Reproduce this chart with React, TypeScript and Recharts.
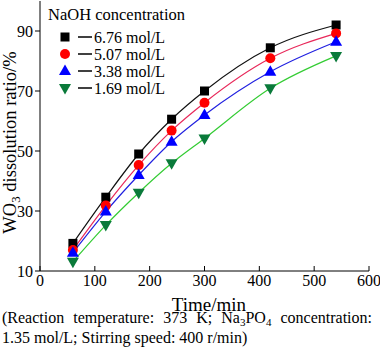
import React from 'react';
import { LineChart, Line, XAxis, YAxis, Customized } from 'recharts';

const times = [60, 120, 180, 240, 300, 420, 540];
const conc676 = [19.2, 34.6, 49.0, 60.6, 70.0, 84.4, 92.0];
const conc507 = [17.0, 31.8, 45.3, 56.8, 66.1, 80.9, 89.2];
const conc338 = [16.1, 29.8, 42.0, 53.1, 62.0, 76.4, 86.4];
const conc169 = [13.1, 25.3, 36.1, 45.9, 54.2, 70.9, 81.7];
const xTicks = [0, 100, 200, 300, 400, 500, 600];
const yTicks = [10, 30, 50, 70, 90];
const legendTitle = 'NaOH concentration';
const seriesNames = ['6.76 mol/L', '5.07 mol/L', '3.38 mol/L', '1.69 mol/L'];

const data = times.map((t, i) => ({
  t,
  a: conc676[i],
  b: conc507[i],
  c: conc338[i],
  d: conc169[i],
}));

const FONT = 'Liberation Serif';

type Kind = 'square' | 'circle' | 'up' | 'down';

function Marker({ kind, cx, cy, fill }: { kind: Kind; cx: number; cy: number; fill: string }) {
  if (kind === 'square') return <rect x={cx - 4.5} y={cy - 4.5} width={9} height={9} fill={fill} />;
  if (kind === 'circle') return <circle cx={cx} cy={cy} r={5} fill={fill} />;
  if (kind === 'up')
    return <polygon points={`${cx},${cy - 6.5} ${cx + 6},${cy + 4} ${cx - 6},${cy + 4}`} fill={fill} />;
  return <polygon points={`${cx},${cy + 6.5} ${cx + 6},${cy - 4} ${cx - 6},${cy - 4}`} fill={fill} />;
}

const series: { key: string; kind: Kind; line: string; mark: string }[] = [
  { key: 'a', kind: 'square', line: '#111', mark: '#000' },
  { key: 'b', kind: 'circle', line: '#e8285a', mark: '#ff0000' },
  { key: 'c', kind: 'up', line: '#2020e0', mark: '#0000ff' },
  { key: 'd', kind: 'down', line: '#33cc33', mark: '#0a7a3a' },
];

function LegendBox() {
  const rows = [37, 54, 71, 88];
  return (
    <g fill="#000" style={{ fontFamily: FONT }}>
      <text x={48} y={20} fontSize={16.5} style={{ fontFamily: FONT }}>{legendTitle}</text>
      {series.map((s, i) => (
        <g key={s.key}>
          <Marker kind={s.kind} cx={65} cy={rows[i]} fill={s.mark} />
          <line x1={78} x2={92} y1={rows[i]} y2={rows[i]} stroke="#000" strokeWidth={1.5} />
          <text x={94} y={rows[i] + 6} fontSize={16} style={{ fontFamily: FONT }}>{seriesNames[i]}</text>
        </g>
      ))}
    </g>
  );
}

function Titles() {
  return (
    <g fill="#000" style={{ fontFamily: FONT }}>
      <text x={209} y={311} fontSize={19} textAnchor="middle" style={{ fontFamily: FONT }}>Time/min</text>
      <text x={16} y={142.5} fontSize={18.5} textAnchor="middle" transform="rotate(-90, 16, 142.5)" style={{ fontFamily: FONT }}>
        WO<tspan fontSize={13} dy={4}>3</tspan><tspan dy={-4}> dissolution ratio/%</tspan>
      </text>
    </g>
  );
}

function XTick(p: any) {
  return (
    <text x={p.x} y={286} textAnchor="middle" fontSize={16} fill="#000" style={{ fontFamily: FONT }}>
      {p.payload.value}
    </text>
  );
}

function YTick(p: any) {
  return (
    <text x={p.x} y={p.y + 5.5} textAnchor="end" fontSize={16} fill="#000" style={{ fontFamily: FONT }}>
      {p.payload.value}
    </text>
  );
}

export default function App() {
  return (
    <div style={{ position: 'absolute', left: 0, top: 0, width: 380, height: 357, background: '#fff', fontFamily: FONT }}>
      <LineChart width={380} height={320} data={data} margin={{ top: 1, right: 11, bottom: 19, left: 0 }}>
        <XAxis
          dataKey="t"
          type="number"
          domain={[0, 600]}
          ticks={xTicks}
          tickSize={-5}
          tickMargin={9}
          height={30}
          axisLine={{ stroke: '#000' }}
          tickLine={{ stroke: '#000' }}
          tick={<XTick />}
          interval={0}
        />
        <XAxis
          xAxisId="top"
          orientation="top"
          type="number"
          domain={[0, 600]}
          height={0}
          tick={false}
          tickLine={false}
          axisLine={{ stroke: '#555' }}
        />
        <YAxis
          type="number"
          domain={[10, 100]}
          ticks={yTicks}
          width={40}
          tickSize={5}
          tickMargin={2}
          axisLine={{ stroke: '#000' }}
          tickLine={{ stroke: '#000' }}
          tick={<YTick />}
          interval={0}
        />
        <YAxis
          yAxisId="right"
          orientation="right"
          type="number"
          domain={[10, 100]}
          width={0}
          tick={false}
          tickLine={false}
          axisLine={{ stroke: '#555' }}
        />
        {series.map((s) => (
          <Line
            key={s.key}
            dataKey={s.key}
            type="monotone"
            stroke={s.line}
            strokeWidth={1.2}
            isAnimationActive={false}
            dot={(p: any) => <Marker key={`${s.key}-${p.index}`} kind={s.kind} cx={p.cx} cy={p.cy} fill={s.mark} />}
            activeDot={false}
          />
        ))}
        <Customized component={LegendBox} />
        <Customized component={Titles} />
      </LineChart>
      <div
        style={{
          position: 'absolute',
          left: 2,
          top: 310,
          width: 370,
          fontFamily: FONT,
          fontSize: 16,
          lineHeight: '16px',
          color: '#000',
          textAlign: 'justify',
          textAlignLast: 'justify',
        }}
      >
        (Reaction temperature: 373 K; Na
        <span style={{ fontSize: 11, position: 'relative', top: 3 }}>3</span>
        PO
        <span style={{ fontSize: 11, position: 'relative', top: 3 }}>4</span> concentration:
      </div>
      <div
        style={{
          position: 'absolute',
          left: 2,
          top: 330,
          width: 370,
          fontFamily: FONT,
          fontSize: 16,
          lineHeight: '16px',
          color: '#000',
        }}
      >
        1.35 mol/L; Stirring speed: 400 r/min)
      </div>
    </div>
  );
}
